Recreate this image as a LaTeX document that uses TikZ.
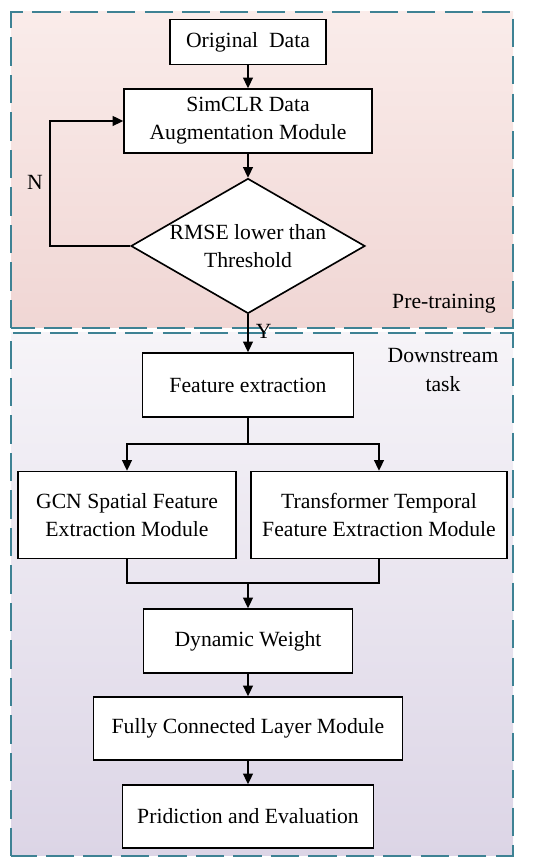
\documentclass[tikz,border=0pt]{standalone}
\usepackage{fontspec}
\setmainfont{Liberation Serif}
\usetikzlibrary{arrows.meta,shapes.geometric}
\definecolor{pretop}{RGB}{250,236,234}
\definecolor{prebot}{RGB}{240,214,212}
\definecolor{downtop}{RGB}{246,244,248}
\definecolor{downbot}{RGB}{220,213,230}
\definecolor{dashteal}{RGB}{62,130,148}
\tikzset{
  stagebox/.style={draw=dashteal, line width=1.7pt, dash pattern=on 24pt off 8pt},
  flowbox/.style={draw, line width=1.4pt, fill=white, align=center, inner sep=0pt},
  flowarrow/.style={line width=1.3pt, -{Triangle[length=0.32cm,width=0.3cm]}},
  flowline/.style={line width=1.3pt}
}
\begin{document}
\begin{tikzpicture}[font=\fontsize{18.5pt}{24pt}\selectfont]
\useasboundingbox (0,0) rectangle (16.5,25.95);
% stages
\draw[stagebox, top color=pretop, bottom color=prebot] (0.33,16.11) rectangle (15.39,25.59);
\draw[stagebox, top color=downtop, bottom color=downbot] (0.33,0.27) rectangle (15.39,15.96);
\node (pre) at (13.32,16.83) {Pre-training};
\node[align=center] (down) at (13.29,14.85) {Downstream\\task};
% pre-training
\node[flowbox, minimum width=4.68cm, minimum height=1.35cm] (orig) at (7.44,24.69) {Original~~Data};
\node[flowbox, minimum width=7.44cm, minimum height=1.92cm] (simclr) at (7.44,22.32) {SimCLR Data\\Augmentation Module};
\node[flowbox, shape=diamond, aspect=1.73, minimum width=7.02cm, minimum height=4.05cm] (rmse) at (7.44,18.57) {RMSE lower than\\Threshold};
\coordinate (loop) at (1.5,18.57);
\node (no) at (1.05,20.49) {N};
% downstream
\node[flowbox, minimum width=6.33cm, minimum height=1.92cm] (feat) at (7.44,14.4) {Feature extraction};
\node[flowbox, minimum width=6.54cm, minimum height=2.61cm] (gcn) at (3.81,10.5) {GCN Spatial Feature\\Extraction Module};
\node[flowbox, minimum width=7.68cm, minimum height=2.61cm] (trans) at (11.37,10.5) {Transformer Temporal\\Feature Extraction Module};
\coordinate (split) at (7.44,12.63);
\coordinate (merge) at (7.44,8.46);
\node[flowbox, minimum width=6.27cm, minimum height=1.92cm] (weight) at (7.44,6.72) {Dynamic Weight};
\node[flowbox, minimum width=9.27cm, minimum height=1.89cm] (fc) at (7.44,4.095) {Fully Connected Layer Module};
\node[flowbox, minimum width=7.53cm, minimum height=1.89cm] (pred) at (7.44,1.455) {Pridiction and Evaluation};
% connectors
\draw[flowarrow] (orig) -- (simclr);
\draw[flowarrow] (simclr) -- (rmse);
\draw[flowarrow] (rmse.west) -- (loop) |- (simclr.west);
\draw[flowarrow] (rmse.south) -- node[pos=0.45, anchor=west, inner sep=6pt] (yes) {Y} (feat.north);
\draw[flowline] (feat.south) -- (split);
\draw[flowarrow] (split) -| (gcn.north);
\draw[flowarrow] (split) -| (trans.north);
\draw[flowline] (gcn.south) |- (merge);
\draw[flowline] (trans.south) |- (merge);
\draw[flowarrow] (merge) -- (weight);
\draw[flowarrow] (weight) -- (fc);
\draw[flowarrow] (fc) -- (pred);
\end{tikzpicture}
\end{document}
